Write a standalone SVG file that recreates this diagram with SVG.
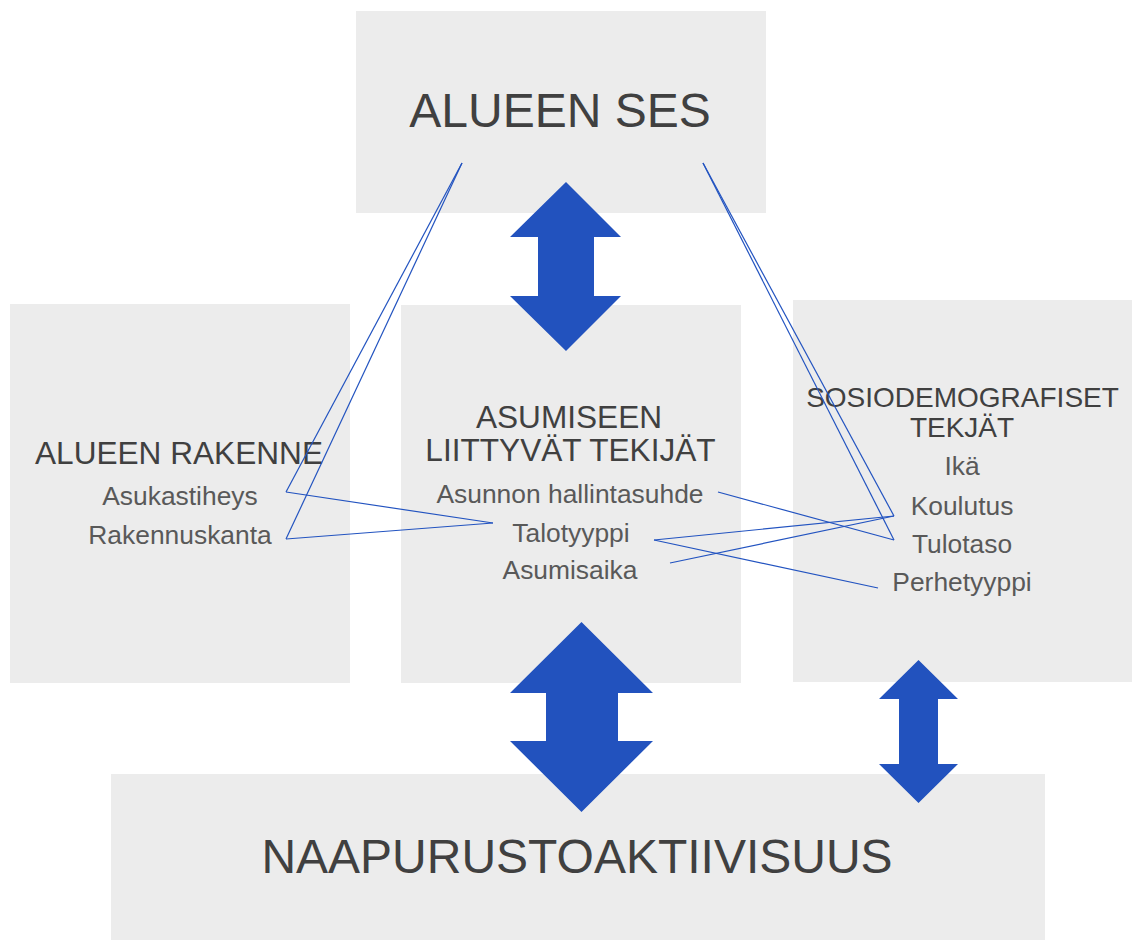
<svg xmlns="http://www.w3.org/2000/svg" width="1132" height="940" viewBox="0 0 1132 940">
  <style>
    .box { fill: #ececec; }
    .head { font-family: "Liberation Sans", Arial, sans-serif; fill: #404040; text-anchor: middle; }
    .item { font-family: "Liberation Sans", Arial, sans-serif; fill: #595959; text-anchor: middle; font-size: 26.4px; }
    .link { stroke: #2253c0; stroke-width: 1.2; fill: none; }
    .arrow { fill: #2252be; }
  </style>
  <rect width="1132" height="940" fill="#ffffff"/>

  <g id="node-alueen-ses">
    <rect class="box" x="356" y="11" width="410" height="202"/>
    <text class="head" x="560" y="127" font-size="48">ALUEEN SES</text>
  </g>

  <g id="node-alueen-rakenne">
    <rect class="box" x="10" y="304" width="340" height="379"/>
    <text class="head" x="179" y="464" font-size="31.6">ALUEEN RAKENNE</text>
    <text class="item" x="180" y="505">Asukastiheys</text>
    <text class="item" x="180" y="544">Rakennuskanta</text>
  </g>

  <g id="node-asumiseen">
    <rect class="box" x="401" y="305" width="340" height="378"/>
    <text class="head" x="569" y="428" font-size="31.6">ASUMISEEN</text>
    <text class="head" x="570.5" y="461" font-size="31.6">LIITTYVÄT TEKIJÄT</text>
    <text class="item" x="570" y="503">Asunnon hallintasuhde</text>
    <text class="item" x="571" y="542">Talotyyppi</text>
    <text class="item" x="570" y="579">Asumisaika</text>
  </g>

  <g id="node-sosiodemografiset">
    <rect class="box" x="793" y="300" width="339" height="382"/>
    <text class="head" x="962.5" y="407" font-size="28">SOSIODEMOGRAFISET</text>
    <text class="head" x="962" y="437" font-size="28">TEKJÄT</text>
    <text class="item" x="962" y="475">Ikä</text>
    <text class="item" x="962" y="515">Koulutus</text>
    <text class="item" x="962" y="553">Tulotaso</text>
    <text class="item" x="962" y="591">Perhetyyppi</text>
  </g>

  <g id="node-naapurustoaktiivisuus">
    <rect class="box" x="111" y="774" width="934" height="166"/>
    <text class="head" x="577" y="873" font-size="48">NAAPURUSTOAKTIIVISUUS</text>
  </g>

  <g id="arrows">
    <polygon class="arrow" points="566,182 621,237 594,237 594,296 621,296 566,351 510,296 538,296 538,237 510,237"/>
    <polygon class="arrow" points="581.5,622 653,693 618,693 618,741 653,741 581.5,812 510,741 546,741 546,693 510,693"/>
    <polygon class="arrow" points="918.5,660 958,699 938,699 938,764 958,764 918.5,803 879,764 899,764 899,699 879,699"/>
  </g>

  <g id="connectors">
    <line class="link" x1="462" y1="163" x2="286" y2="492"/>
    <line class="link" x1="462" y1="163" x2="286" y2="539"/>
    <line class="link" x1="286" y1="492" x2="493" y2="523"/>
    <line class="link" x1="286" y1="539" x2="493" y2="523"/>
    <line class="link" x1="703" y1="163" x2="894" y2="516"/>
    <line class="link" x1="703" y1="163" x2="894" y2="540"/>
    <line class="link" x1="718" y1="492" x2="894" y2="540"/>
    <line class="link" x1="654" y1="540" x2="894" y2="516"/>
    <line class="link" x1="654" y1="540" x2="878" y2="588"/>
    <line class="link" x1="670" y1="563" x2="894" y2="516"/>
  </g>
</svg>
